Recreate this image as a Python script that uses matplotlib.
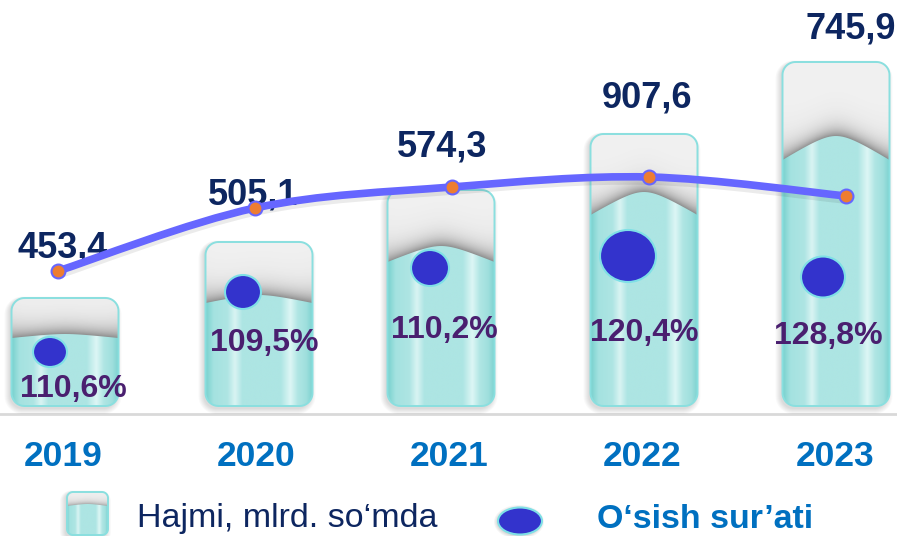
import numpy as np
import matplotlib
matplotlib.use("Agg")
import matplotlib.pyplot as plt
from matplotlib.patches import Polygon, Ellipse
from matplotlib.path import Path
from matplotlib.patches import PathPatch
from matplotlib.colors import LinearSegmentedColormap

# ---------------- data ----------------
years = ["2019", "2020", "2021", "2022", "2023"]
volume = [453.4, 505.1, 574.3, 907.6, 745.9]          # Hajmi, mlrd. so'mda
growth = [110.6, 109.5, 110.2, 120.4, 128.8]          # O'sish sur'ati, %
# visual levels as drawn in the infographic (height above the base)
bar_level = [108, 164, 216, 272, 344]
fill_edge = [68, 103, 144, 191, 246]
fill_peak = [72, 111, 160, 214, 270]
line_level = [135, 198, 219, 229, 210]
dot_level = [54, 114, 138, 150, 129]
dot_w = [34, 36, 38, 56, 44]
dot_h = [30, 34, 36, 52, 41]

# ---------------- layout ----------------
PX = 193.0            # pixels per category step
X0 = 63.0             # pixel x of first category
bar_shift = [2, 3, -8, 2, 1]
dot_dx = [-15, -16, -11, -16, -13]
pct_dx = [8, 5, 3, 0, -8]
pct_y = [17, 63, 76, 73, 70]
line_px0, line_step = 58.0, 197.0
val_dx = [5, -2, -10, -2, 5]
val_y = [158, 211, 259, 308, 377]
HW = 53.5
R = 13

NAVY = "#0D2660"
PURPLE = "#4A1F6F"
BLUE = "#0070C0"
LINEC = "#6666FF"
ORANGE = "#ED7D31"
DOT = "#3333CC"
DOTEDGE = "#7FE0E6"
OUTLINE = "#8ADFDF"
GREY = "#F0F0F0"

glass = LinearSegmentedColormap.from_list("glass", [
    (0.00, "#7ad2cf"), (0.07, "#a4e2e0"), (0.20, "#aee5e3"), (0.27, "#d9f4f3"),
    (0.34, "#ade5e3"), (0.70, "#ade5e3"), (0.79, "#ddf6f5"), (0.86, "#b0e6e4"),
    (0.94, "#9fdfdd"), (1.00, "#7ad2cf")])

plt.rcParams["font.family"] = ["Liberation Sans", "DejaVu Sans"]

fig = plt.figure(figsize=(8.97, 5.36), dpi=100)
ax = fig.add_axes([0, 0, 1, 1])
ax.set_axis_off()


def fx(px):
    return (px - X0) / PX


def rrect_pts(cx, hw, y0, y1, r, n=14):
    pts = []
    for (ccx, ccy, a0, a1) in [(hw - r, y0 + r, -90, 0), (hw - r, y1 - r, 0, 90),
                               (-hw + r, y1 - r, 90, 180), (-hw + r, y0 + r, 180, 270)]:
        t = np.radians(np.linspace(a0, a1, n))
        for tt in t:
            pts.append((cx + (ccx + r * np.cos(tt)) / PX, ccy + r * np.sin(tt)))
    return np.array(pts)


def curve_f(t, c=0.35):
    return (np.sqrt(1 + c * c) - np.sqrt(t * t + c * c)) / (np.sqrt(1 + c * c) - c)


def top_curve(cx, hw, edge, peak, n=40):
    u = np.linspace(1, -1, n)
    return np.column_stack([cx + u * hw / PX, edge + (peak - edge) * curve_f(np.abs(u))])


def body_pts(cx, hw, y0, edge, peak, r, n=14):
    pts = [(cx - hw / PX, edge)]
    for (ccx, a0, a1) in [(-hw + r, 180, 270), (hw - r, 270, 360)]:
        t = np.radians(np.linspace(a0, a1, n))
        for tt in t:
            pts.append((cx + (ccx + r * np.cos(tt)) / PX, y0 + r + r * np.sin(tt)))
    pts.append((cx + hw / PX, edge))
    pts.extend(top_curve(cx, hw, edge, peak).tolist())
    return np.array(pts)


def glass_bar(cx, hw, y0, y1, edge, peak, r, z=2, shadow=True, sh_len=9.0,
              sh_alpha=0.55):
    if shadow:
        for k in range(6):
            sp = rrect_pts(cx - 2 / PX, hw + k, y0 - 3 - k, y1 - 1 + k * 0.5, r + k)
            ax.add_patch(Polygon(sp, closed=True, fc="black", ec="none",
                                 alpha=0.025, zorder=z))
    outer = Polygon(rrect_pts(cx, hw, y0, y1, r), closed=True, fc=GREY,
                    ec="none", zorder=z + 0.1)
    ax.add_patch(outer)
    # soft shadow above the liquid surface
    nx, ny = 120, 160
    ys = np.linspace(edge - 4, y1, ny)
    us = np.linspace(-1, 1, nx)
    cy = edge + (peak - edge) * curve_f(np.abs(us))
    d = ys[:, None] - cy[None, :]
    side = 1.0 + 0.25 * np.abs(us)[None, :] ** 4
    a = np.where(d > -3, np.exp(-np.clip(d, 0, None) / (sh_len * side)), 0.0) * sh_alpha
    rgba = np.zeros((ny, nx, 4))
    rgba[..., 0:3] = 0.25
    rgba[..., 3] = a
    ims = ax.imshow(rgba, extent=[cx - hw / PX, cx + hw / PX, edge - 4, y1],
                    origin="lower", aspect="auto", zorder=z + 0.2,
                    interpolation="bilinear")
    ims.set_clip_path(outer)
    body = Polygon(body_pts(cx, hw, y0, edge, peak, r), closed=True,
                   fc="none", ec="none", zorder=z + 0.3)
    ax.add_patch(body)
    img = np.linspace(0, 1, 256)[None, :]
    im = ax.imshow(img, extent=[cx - hw / PX, cx + hw / PX, y0, peak + 2],
                   aspect="auto", cmap=glass, zorder=z + 0.3,
                   interpolation="bilinear")
    im.set_clip_path(body)
    ax.add_patch(Polygon(rrect_pts(cx, hw, y0, y1, r), closed=True, fc="none",
                         ec=OUTLINE, lw=1.4, zorder=z + 0.4))


# baseline
ax.plot([-1, 6], [-8, -8], color="#D9D9D9", lw=2, zorder=1)

for i in range(len(years)):
    cx = i + bar_shift[i] / PX
    glass_bar(cx, HW, 0, bar_level[i], fill_edge[i], fill_peak[i], R)
    ax.add_patch(Ellipse((cx + dot_dx[i] / PX, dot_level[i]), dot_w[i] / PX,
                         dot_h[i], fc=DOT, ec=DOTEDGE, lw=1.5, zorder=6))
    ax.text(cx + pct_dx[i] / PX, pct_y[i],
            f"{growth[i]:.1f}".replace(".", ",") + "%",
            ha="center", va="center", fontsize=23, fontweight="bold",
            color=PURPLE, zorder=7)
    ax.text(i, -50, years[i], ha="center", va="center", fontsize=25.5,
            fontweight="bold", color=BLUE, zorder=7)

# smooth line (Catmull-Rom -> Bezier), drawn through the data points
lx = np.array([fx(line_px0 + line_step * i) for i in range(len(years))])
ly = np.array(line_level, dtype=float)
P = np.column_stack([lx * PX, ly])
verts = [tuple(P[0])]
codes = [Path.MOVETO]
for k in range(len(P) - 1):
    p0 = P[k - 1] if k > 0 else P[k]
    p1, p2 = P[k], P[k + 1]
    p3 = P[k + 2] if k + 2 < len(P) else P[k + 1]
    c1 = p1 + (p2 - p0) / 6.0
    c2 = p2 - (p3 - p1) / 6.0
    verts += [tuple(c1), tuple(c2), tuple(p2)]
    codes += [Path.CURVE4] * 3
verts = [(v[0] / PX, v[1]) for v in verts]
shadow_verts = [(v[0], v[1] - 3) for v in verts]
ax.add_patch(PathPatch(Path(shadow_verts, codes), fc="none", ec="black",
                       lw=7, alpha=0.08, zorder=8, capstyle="round"))
ax.add_patch(PathPatch(Path(verts, codes), fc="none", ec=LINEC, lw=5.5,
                       zorder=8.5, capstyle="round"))
ax.plot(lx, ly, linestyle="none", marker="o", ms=10, mfc=ORANGE, mec=LINEC,
        mew=1.5, zorder=9)

for i in range(len(years)):
    ax.text(lx[i] + val_dx[i] / PX, val_y[i],
            f"{volume[i]:.1f}".replace(".", ","), ha="center", va="center",
            fontsize=26, fontweight="bold", color=NAVY, zorder=7.5)

# legend
glass_bar(fx(87.5), 20.5, -129, -86, -100, -98, 6, z=2, sh_len=3.0, sh_alpha=0.4)
ax.text(fx(137), -113, "Hajmi, mlrd. so\u2018mda", ha="left", va="center",
        fontsize=24.5, color=NAVY, zorder=7)
for k in range(4):
    ax.add_patch(Ellipse((fx(519), -116), (44 + 2 * k) / PX, 28 + 2 * k,
                         fc="black", ec="none", alpha=0.04, zorder=5))
ax.add_patch(Ellipse((fx(520), -115), 44 / PX, 27, fc=DOT, ec=DOTEDGE,
                     lw=1.5, zorder=6))
ax.text(fx(597), -113, "O\u2018sish sur\u2019ati", ha="left", va="center",
        fontsize=24.5, fontweight="bold", color=BLUE, zorder=7)

ax.set_xlim(fx(0), fx(897))
ax.set_ylim(406 - 536, 406)
fig.savefig("out.png", dpi=100, facecolor="white")
